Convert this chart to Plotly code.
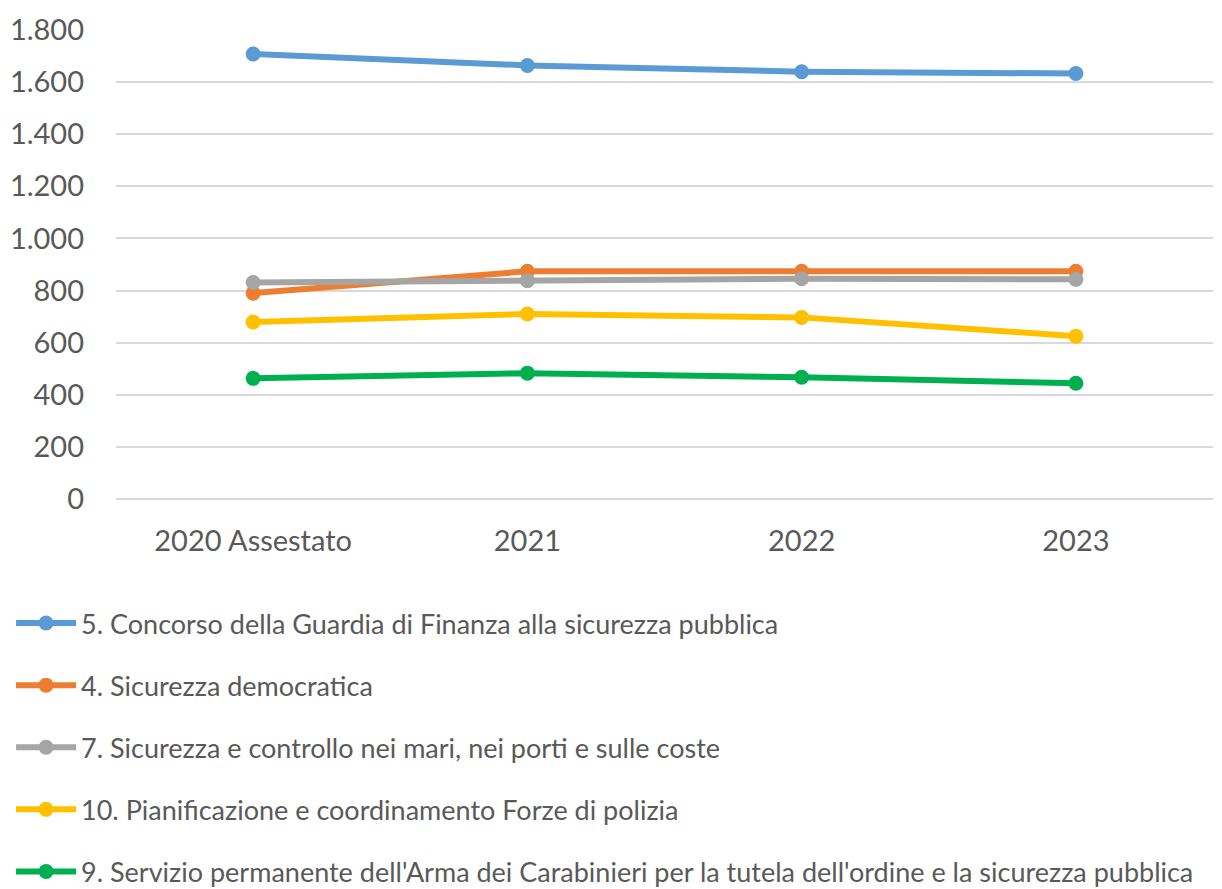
import plotly.graph_objects as go

categories = ["2020 Assestato", "2021", "2022", "2023"]

guardia_finanza = [1708, 1664, 1640, 1633]
sicurezza_democratica = [790, 874, 874, 874]
mari_porti_coste = [831, 838, 845, 843]
pianificazione_polizia = [679, 710, 697, 625]
arma_carabinieri = [463, 483, 467, 444]

series = [
    ("5. Concorso della Guardia di Finanza alla sicurezza pubblica", guardia_finanza, "#5B9BD5"),
    ("4. Sicurezza democratica", sicurezza_democratica, "#ED7D31"),
    ("7. Sicurezza e controllo nei mari, nei porti e sulle coste", mari_porti_coste, "#A5A5A5"),
    ("10. Pianificazione e coordinamento Forze di polizia", pianificazione_polizia, "#FFC000"),
    ("9. Servizio permanente dell'Arma dei Carabinieri per la tutela dell'ordine e la sicurezza pubblica",
     arma_carabinieri, "#00B050"),
]

fig = go.Figure()
for i, (name, vals, col) in enumerate(series):
    fig.add_trace(go.Scatter(
        x=categories, y=vals, name=name, mode="lines+markers",
        line=dict(color=col, width=6),
        marker=dict(color=col, size=15),
        legendgroup=str(i),
    ))

# plot area placed with domains so the legend sits inside the paper (no margin push)
# (the page body adds an 8px offset, so everything is shifted up/left by 8)
fig.update_layout(
    width=1222, height=889,
    margin=dict(l=0, r=0, t=22, b=6),
    paper_bgcolor="white", plot_bgcolor="white",
    separators=",.",
    font=dict(family="Lato, Open Sans, sans-serif", size=29, color="#595959"),
    showlegend=True,
    legend=dict(
        orientation="v", x=0.0025, xanchor="left", y=-0.0058, yanchor="bottom",
        tracegroupgap=24, font=dict(size=27, color="#595959"),
        itemwidth=60, bgcolor="rgba(0,0,0,0)",
    ),
    xaxis=dict(
        domain=[0.0884, 0.9861],
        type="category", range=[-0.5, 3.5], showgrid=False, automargin=False,
        showline=False, ticks="", ticklabelstandoff=22,
    ),
    yaxis=dict(
        domain=[0.4553, 1.0],
        range=[0, 1800], dtick=200, tickformat=",d", automargin=False,
        showgrid=True, gridcolor="#D9D9D9", gridwidth=2,
        zeroline=True, zerolinecolor="#D9D9D9", zerolinewidth=2,
        showline=False, ticks="", ticklabelstandoff=31,
    ),
)

fig.write_html("out.html")
